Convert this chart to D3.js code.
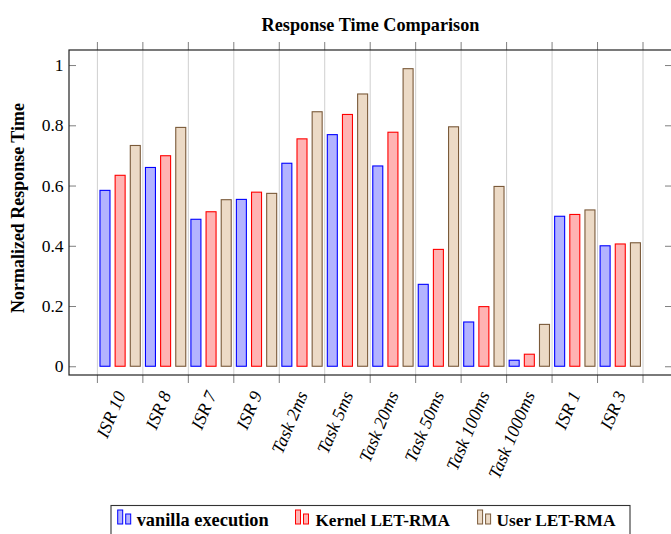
<!DOCTYPE html>
<html>
<head>
<meta charset="utf-8">
<script src="https://cdn.jsdelivr.net/npm/d3@7"></script>
<style>
  html, body { margin: 0; padding: 0; background: #fff; }
  svg { display: block; }
</style>
</head>
<body>
<svg id="chart" width="671" height="534"></svg>
<script>
// ---------------- data ----------------
const categories = ["ISR 10", "ISR 8", "ISR 7", "ISR 9", "Task 2ms", "Task 5ms", "Task 20ms", "Task 50ms", "Task 100ms", "Task 1000ms", "ISR 1", "ISR 3"];
const seriesNames = ["vanilla execution", "Kernel LET-RMA", "User LET-RMA"];
const vanillaValues = [0.584, 0.660, 0.488, 0.554, 0.674, 0.769, 0.665, 0.272, 0.147, 0.020, 0.498, 0.400];
const kernelValues  = [0.634, 0.699, 0.513, 0.578, 0.755, 0.836, 0.777, 0.388, 0.198, 0.040, 0.504, 0.406];
const userValues    = [0.733, 0.793, 0.553, 0.574, 0.845, 0.904, 0.988, 0.795, 0.597, 0.139, 0.519, 0.410];
const yTickValues = [0, 0.2, 0.4, 0.6, 0.8, 1];
const yTickLabels = ["0", "0.2", "0.4", "0.6", "0.8", "1"];
const titleText = "Response Time Comparison";
const yLabelText = "Normalized Response Time";

// ---------------- styles ----------------
const fills   = ["#b3b3ff", "#ffb3b3", "#ecdac6"];
const strokes = ["#0000ff", "#ff0000", "#7a5a3a"];
const serif = "'Liberation Serif', 'Times New Roman', serif";

const svg = d3.select("#chart");
const plot = { left: 69, right: 672, top: 50, bottom: 375 };

const series = [vanillaValues, kernelValues, userValues];

const x = d3.scaleBand().domain(categories).range([97.4, 643]).paddingInner(0).paddingOuter(0);
const xInner = d3.scaleBand().domain(d3.range(series.length))
  .range([0, x.bandwidth()]).paddingInner(0.34).paddingOuter(0.17);
const y = d3.scaleLinear().domain([-0.029, 1.05]).range([plot.bottom, plot.top]);

function fit(sel, target) {
  const w = sel.node().getComputedTextLength();
  const fs = parseFloat(sel.attr("font-size"));
  sel.attr("font-size", (fs * target / w).toFixed(2));
}

// grid lines at group boundaries
const boundaries = categories.map(c => x(c)).concat([x.range()[1]]);
svg.append("g").selectAll("line").data(boundaries).join("line")
  .attr("x1", d => d).attr("x2", d => d)
  .attr("y1", plot.top).attr("y2", plot.bottom)
  .attr("stroke", "#cfcfcf").attr("stroke-width", 1);

// outer tick marks top & bottom
svg.append("g").selectAll("line").data(boundaries).join("line")
  .attr("x1", d => d).attr("x2", d => d)
  .attr("y1", plot.bottom).attr("y2", plot.bottom + 8)
  .attr("stroke", "#7f7f7f").attr("stroke-width", 1);
svg.append("g").selectAll("line").data(boundaries).join("line")
  .attr("x1", d => d).attr("x2", d => d)
  .attr("y1", plot.top - 8).attr("y2", plot.top)
  .attr("stroke", "#7f7f7f").attr("stroke-width", 1);

// y axis left (ticks inside) with labels
const yAxisL = svg.append("g").attr("transform", `translate(${plot.left},0)`)
  .call(d3.axisLeft(y).tickValues(yTickValues)
    .tickFormat((d, i) => yTickLabels[i]).tickSize(-7).tickPadding(5.5));
yAxisL.select(".domain").remove();
yAxisL.selectAll(".tick line").attr("stroke", "#7f7f7f");
yAxisL.selectAll(".tick text").attr("font-family", serif).attr("font-size", 17.5).attr("fill", "#000");

// y axis right (ticks inside, no labels)
const yAxisR = svg.append("g").attr("transform", `translate(${plot.right},0)`)
  .call(d3.axisRight(y).tickValues(yTickValues).tickFormat("").tickSize(-7));
yAxisR.select(".domain").remove();
yAxisR.selectAll(".tick line").attr("stroke", "#7f7f7f");

// bars
const groups = svg.append("g").selectAll("g").data(series).join("g")
  .attr("fill", (d, i) => fills[i]).attr("stroke", (d, i) => strokes[i]);
groups.each(function (vals, si) {
  d3.select(this).selectAll("rect").data(vals).join("rect")
    .attr("x", (v, ci) => x(categories[ci]) + xInner(si))
    .attr("width", xInner.bandwidth())
    .attr("y", v => y(v))
    .attr("height", v => y(0) - y(v))
    .attr("stroke-width", 1.1);
});

// frame
svg.append("rect")
  .attr("x", plot.left).attr("y", plot.top)
  .attr("width", plot.right - plot.left).attr("height", plot.bottom - plot.top)
  .attr("fill", "none").attr("stroke", "#222").attr("stroke-width", 1.2);

// x tick labels (rotated)
const xAxis = svg.append("g").attr("transform", `translate(0,${plot.bottom})`)
  .call(d3.axisBottom(x).tickSize(0).tickPadding(0));
xAxis.select(".domain").remove();
xAxis.selectAll(".tick text")
  .attr("font-family", serif).attr("font-size", 18).attr("font-style", "italic")
  .attr("fill", "#000")
  .attr("text-anchor", "end")
  .attr("dy", 0).attr("y", 0)
  .attr("transform", "translate(6,19.5) rotate(-67)");

// title
const title = svg.append("text").attr("x", (plot.left + plot.right) / 2).attr("y", 31)
  .attr("text-anchor", "middle").attr("font-family", serif).attr("font-weight", "bold")
  .attr("font-size", 17).text(titleText);
fit(title, 218);

// y label
const yl = svg.append("text")
  .attr("transform", `translate(23.5,${208}) rotate(-90)`)
  .attr("text-anchor", "middle").attr("font-family", serif).attr("font-weight", "bold")
  .attr("font-size", 17).text(yLabelText);
fit(yl, 210);

// legend
const legend = svg.append("g");
legend.append("rect").attr("x", 111).attr("y", 505.5).attr("width", 519).attr("height", 50)
  .attr("fill", "#fff").attr("stroke", "#333").attr("stroke-width", 1.1);
const legendIconX = [117.7, 295.5, 477.6];
const legendTextX = [136.7, 315.5, 496.6];
const legendTextW = [132, 134.5, 119];
seriesNames.forEach((name, i) => {
  const g = legend.append("g");
  g.append("rect").attr("x", legendIconX[i]).attr("y", 510).attr("width", 5).attr("height", 14)
    .attr("fill", fills[i]).attr("stroke", strokes[i]).attr("stroke-width", 1);
  g.append("rect").attr("x", legendIconX[i] + 8).attr("y", 514).attr("width", 5).attr("height", 10)
    .attr("fill", fills[i]).attr("stroke", strokes[i]).attr("stroke-width", 1);
  const t = g.append("text").attr("x", legendTextX[i]).attr("y", 525.5)
    .attr("font-family", serif).attr("font-weight", "bold").attr("font-size", 17).text(name);
  fit(t, legendTextW[i]);
});
</script>
</body>
</html>
